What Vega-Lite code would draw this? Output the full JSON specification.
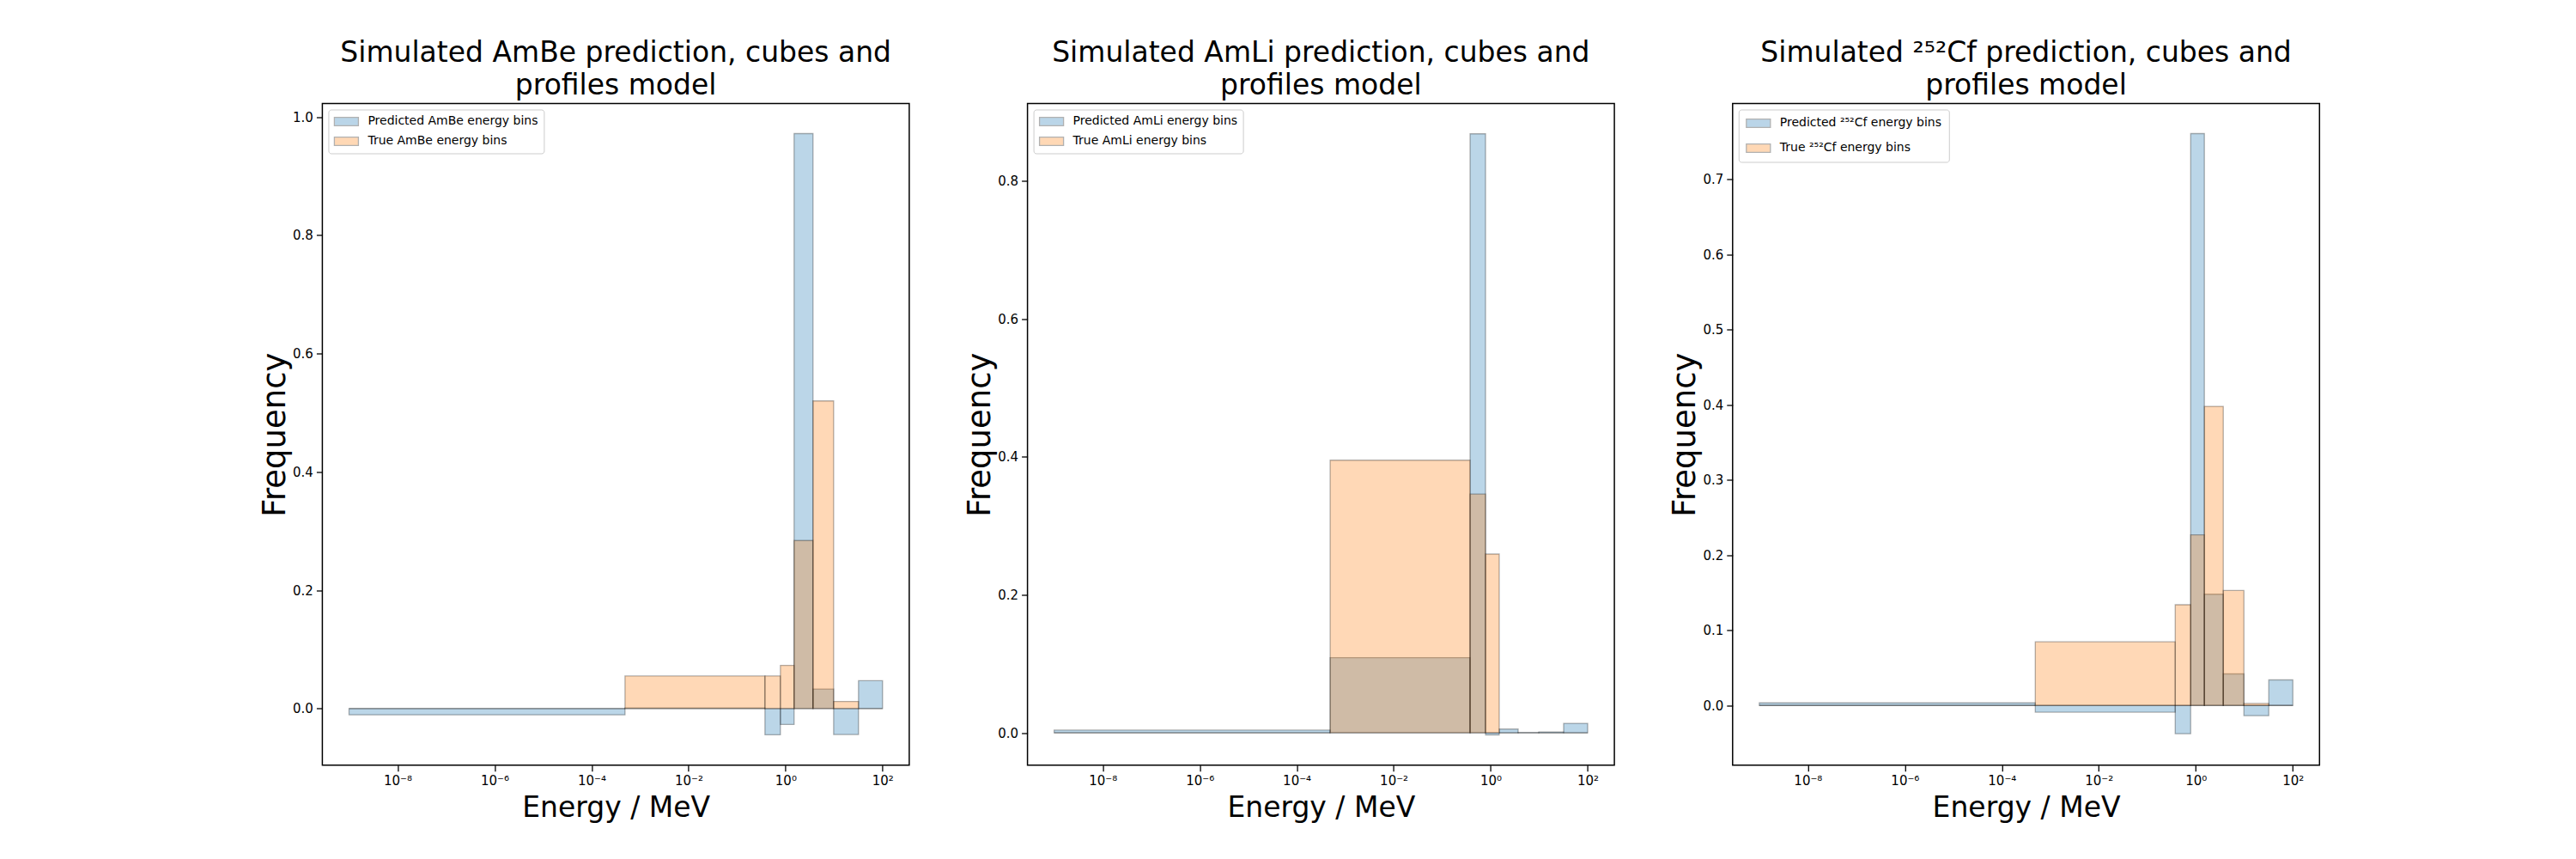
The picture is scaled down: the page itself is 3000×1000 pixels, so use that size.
{
  "$schema": "https://vega.github.io/schema/vega-lite/v6.json",
  "autosize": {"type": "none"},
  "padding": {"left": 375.4, "top": 120.5, "right": 2624.6, "bottom": 879.5},
  "bounds": "flush",
  "spacing": 137.2,
  "background": "white",
  "datasets": {
    "ambe": [
      {"lo": 1e-9, "hi": 0.00049, "freq": -0.0107, "series": "Predicted AmBe energy bins"},
      {"lo": 0.00049, "hi": 0.376, "freq": 0.001, "series": "Predicted AmBe energy bins"},
      {"lo": 0.376, "hi": 0.783, "freq": -0.0445, "series": "Predicted AmBe energy bins"},
      {"lo": 0.783, "hi": 1.5, "freq": -0.027, "series": "Predicted AmBe energy bins"},
      {"lo": 1.5, "hi": 3.68, "freq": 0.972, "series": "Predicted AmBe energy bins"},
      {"lo": 3.68, "hi": 9.8, "freq": 0.033, "series": "Predicted AmBe energy bins"},
      {"lo": 9.8, "hi": 31.9, "freq": -0.044, "series": "Predicted AmBe energy bins"},
      {"lo": 31.9, "hi": 100, "freq": 0.047, "series": "Predicted AmBe energy bins"},
      {"lo": 1e-9, "hi": 0.00049, "freq": 0, "series": "True AmBe energy bins"},
      {"lo": 0.00049, "hi": 0.376, "freq": 0.055, "series": "True AmBe energy bins"},
      {"lo": 0.376, "hi": 0.783, "freq": 0.055, "series": "True AmBe energy bins"},
      {"lo": 0.783, "hi": 1.5, "freq": 0.073, "series": "True AmBe energy bins"},
      {"lo": 1.5, "hi": 3.68, "freq": 0.284, "series": "True AmBe energy bins"},
      {"lo": 3.68, "hi": 9.8, "freq": 0.52, "series": "True AmBe energy bins"},
      {"lo": 9.8, "hi": 31.9, "freq": 0.012, "series": "True AmBe energy bins"},
      {"lo": 31.9, "hi": 100, "freq": 0, "series": "True AmBe energy bins"}
    ],
    "amli": [
      {"lo": 1e-9, "hi": 0.00049, "freq": 0.004, "series": "Predicted AmLi energy bins"},
      {"lo": 0.00049, "hi": 0.376, "freq": 0.109, "series": "Predicted AmLi energy bins"},
      {"lo": 0.376, "hi": 0.783, "freq": 0.868, "series": "Predicted AmLi energy bins"},
      {"lo": 0.783, "hi": 1.5, "freq": -0.003, "series": "Predicted AmLi energy bins"},
      {"lo": 1.5, "hi": 3.68, "freq": 0.0054, "series": "Predicted AmLi energy bins"},
      {"lo": 3.68, "hi": 9.8, "freq": 0.0005, "series": "Predicted AmLi energy bins"},
      {"lo": 9.8, "hi": 31.9, "freq": 0.0012, "series": "Predicted AmLi energy bins"},
      {"lo": 31.9, "hi": 100, "freq": 0.0137, "series": "Predicted AmLi energy bins"},
      {"lo": 1e-9, "hi": 0.00049, "freq": 0, "series": "True AmLi energy bins"},
      {"lo": 0.00049, "hi": 0.376, "freq": 0.395, "series": "True AmLi energy bins"},
      {"lo": 0.376, "hi": 0.783, "freq": 0.346, "series": "True AmLi energy bins"},
      {"lo": 0.783, "hi": 1.5, "freq": 0.259, "series": "True AmLi energy bins"},
      {"lo": 1.5, "hi": 3.68, "freq": 0, "series": "True AmLi energy bins"},
      {"lo": 3.68, "hi": 9.8, "freq": 0, "series": "True AmLi energy bins"},
      {"lo": 9.8, "hi": 31.9, "freq": 0, "series": "True AmLi energy bins"},
      {"lo": 31.9, "hi": 100, "freq": 0, "series": "True AmLi energy bins"}
    ],
    "cf": [
      {"lo": 1e-9, "hi": 0.00049, "freq": 0.0034, "series": "Predicted ²⁵²Cf energy bins"},
      {"lo": 0.00049, "hi": 0.376, "freq": -0.009, "series": "Predicted ²⁵²Cf energy bins"},
      {"lo": 0.376, "hi": 0.783, "freq": -0.0377, "series": "Predicted ²⁵²Cf energy bins"},
      {"lo": 0.783, "hi": 1.5, "freq": 0.761, "series": "Predicted ²⁵²Cf energy bins"},
      {"lo": 1.5, "hi": 3.68, "freq": 0.148, "series": "Predicted ²⁵²Cf energy bins"},
      {"lo": 3.68, "hi": 9.8, "freq": 0.042, "series": "Predicted ²⁵²Cf energy bins"},
      {"lo": 9.8, "hi": 31.9, "freq": -0.0137, "series": "Predicted ²⁵²Cf energy bins"},
      {"lo": 31.9, "hi": 100, "freq": 0.034, "series": "Predicted ²⁵²Cf energy bins"},
      {"lo": 1e-9, "hi": 0.00049, "freq": 0, "series": "True ²⁵²Cf energy bins"},
      {"lo": 0.00049, "hi": 0.376, "freq": 0.0846, "series": "True ²⁵²Cf energy bins"},
      {"lo": 0.376, "hi": 0.783, "freq": 0.134, "series": "True ²⁵²Cf energy bins"},
      {"lo": 0.783, "hi": 1.5, "freq": 0.227, "series": "True ²⁵²Cf energy bins"},
      {"lo": 1.5, "hi": 3.68, "freq": 0.398, "series": "True ²⁵²Cf energy bins"},
      {"lo": 3.68, "hi": 9.8, "freq": 0.153, "series": "True ²⁵²Cf energy bins"},
      {"lo": 9.8, "hi": 31.9, "freq": 0.0026, "series": "True ²⁵²Cf energy bins"},
      {"lo": 31.9, "hi": 100, "freq": 0, "series": "True ²⁵²Cf energy bins"}
    ]
  },
  "hconcat": [
    {
      "title": {"text": ["Simulated AmBe prediction, cubes and", "profiles model"]},
      "width": 683.5,
      "height": 770.2,
      "data": {"name": "ambe"},
      "mark": {"type": "bar", "fillOpacity": 0.3, "stroke": "black", "strokeOpacity": 0.3, "strokeWidth": 1.3},
      "encoding": {
        "x": {"field": "lo", "type": "quantitative", "title": "Energy / MeV",
              "scale": {"type": "log", "domain": [2.818e-10, 354.8], "nice": false},
              "axis": {"values": [1e-8, 1e-6, 1e-4, 0.01, 1, 100]}},
        "x2": {"field": "hi"},
        "y": {"field": "freq", "type": "quantitative", "title": "Frequency",
              "scale": {"domain": [-0.0957, 1.0228], "nice": false, "zero": false},
              "axis": {"values": [0, 0.2, 0.4, 0.6, 0.8, 1.0]}},
        "y2": {"datum": 0},
        "color": {"field": "series", "type": "nominal",
                  "scale": {"domain": ["Predicted AmBe energy bins", "True AmBe energy bins"], "range": ["#1f77b4", "#ff7f0e"]},
                  "legend": {"title": null}}
      }
    },
    {
      "title": {"text": ["Simulated AmLi prediction, cubes and", "profiles model"]},
      "width": 683.5,
      "height": 770.2,
      "data": {"name": "amli"},
      "mark": {"type": "bar", "fillOpacity": 0.3, "stroke": "black", "strokeOpacity": 0.3, "strokeWidth": 1.3},
      "encoding": {
        "x": {"field": "lo", "type": "quantitative", "title": "Energy / MeV",
              "scale": {"type": "log", "domain": [2.818e-10, 354.8], "nice": false},
              "axis": {"values": [1e-8, 1e-6, 1e-4, 0.01, 1, 100]}},
        "x2": {"field": "hi"},
        "y": {"field": "freq", "type": "quantitative", "title": "Frequency",
              "scale": {"domain": [-0.0468, 0.9119], "nice": false, "zero": false},
              "axis": {"values": [0, 0.2, 0.4, 0.6, 0.8]}},
        "y2": {"datum": 0},
        "color": {"field": "series", "type": "nominal",
                  "scale": {"domain": ["Predicted AmLi energy bins", "True AmLi energy bins"], "range": ["#1f77b4", "#ff7f0e"]},
                  "legend": {"title": null}}
      }
    },
    {
      "title": {"text": ["Simulated ²⁵²Cf prediction, cubes and", "profiles model"]},
      "width": 683.5,
      "height": 770.2,
      "data": {"name": "cf"},
      "mark": {"type": "bar", "fillOpacity": 0.3, "stroke": "black", "strokeOpacity": 0.3, "strokeWidth": 1.3},
      "encoding": {
        "x": {"field": "lo", "type": "quantitative", "title": "Energy / MeV",
              "scale": {"type": "log", "domain": [2.818e-10, 354.8], "nice": false},
              "axis": {"values": [1e-8, 1e-6, 1e-4, 0.01, 1, 100]}},
        "x2": {"field": "hi"},
        "y": {"field": "freq", "type": "quantitative", "title": "Frequency",
              "scale": {"domain": [-0.0794, 0.801], "nice": false, "zero": false},
              "axis": {"values": [0, 0.1, 0.2, 0.3, 0.4, 0.5, 0.6, 0.7]}},
        "y2": {"datum": 0},
        "color": {"field": "series", "type": "nominal",
                  "scale": {"domain": ["Predicted ²⁵²Cf energy bins", "True ²⁵²Cf energy bins"], "range": ["#1f77b4", "#ff7f0e"]},
                  "legend": {"title": null, "rowPadding": 13, "padding": 8}}
      }
    }
  ],
  "resolve": {"scale": {"color": "independent", "x": "independent", "y": "independent"}, "legend": {"color": "independent"}},
  "config": {
    "font": "DejaVu Sans",
    "view": {"stroke": "black", "strokeWidth": 1.5, "fill": "white"},
    "title": {"font": "DejaVu Sans", "fontSize": 33, "fontWeight": "normal", "color": "black", "anchor": "middle", "lineHeight": 38, "offset": 3},
    "axis": {
      "grid": false, "domain": false,
      "tickColor": "black", "tickSize": 7, "tickWidth": 1.3,
      "labelFont": "DejaVu Sans", "labelFontSize": 15, "labelColor": "black", "labelPadding": 4,
      "titleFont": "DejaVu Sans", "titleFontSize": 33, "titleFontWeight": "normal", "titleColor": "black"
    },
    "axisX": {
      "labelExpr": "'10' + (datum.value < 1 ? '⁻' : '') + substring('⁰¹²³⁴⁵⁶⁷⁸⁹', abs(round(log(datum.value) / LN10)), abs(round(log(datum.value) / LN10)) + 1)",
      "labelFlush": false, "labelOverlap": false, "titlePadding": 8
    },
    "axisY": {"format": ".1f", "titlePadding": 1, "titleFontSize": 37},
    "legend": {
      "orient": "top-left", "offset": 7,
      "labelFont": "DejaVu Sans", "labelFontSize": 14, "labelColor": "black", "labelLimit": 400,
      "symbolType": "M-2,-0.7H2V0.7H-2Z", "symbolSize": 196, "symbolOffset": 7,
      "symbolOpacity": 0.3, "symbolStrokeColor": "black", "symbolStrokeWidth": 1.3,
      "rowPadding": 7, "labelOffset": 17,
      "padding": 6, "strokeColor": "#cccccc", "fillColor": "white", "cornerRadius": 3
    }
  }
}
